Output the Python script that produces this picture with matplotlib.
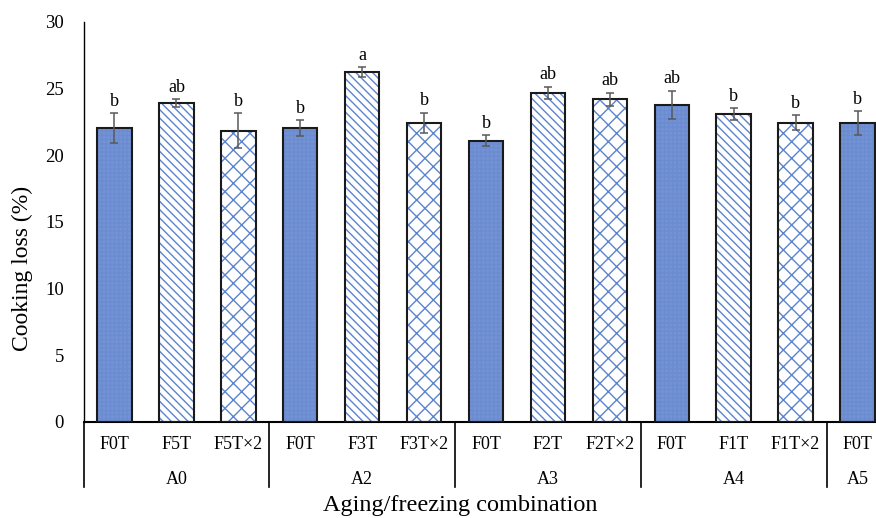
import numpy as np
import matplotlib
matplotlib.use("Agg")
import matplotlib.pyplot as plt
from matplotlib.transforms import blended_transform_factory

plt.rcParams['font.family'] = ['Liberation Serif', 'DejaVu Serif']
plt.rcParams['hatch.linewidth'] = 1.0

# data
groups = ['A0', 'A2', 'A3', 'A4', 'A5']
group_sizes = [3, 3, 3, 3, 1]
cats = ['F0T', 'F5T', 'F5T×2', 'F0T', 'F3T', 'F3T×2',
        'F0T', 'F2T', 'F2T×2', 'F0T', 'F1T', 'F1T×2', 'F0T']
vals = [22.05, 23.9, 21.85, 22.05, 26.25, 22.45,
        21.1, 24.7, 24.2, 23.8, 23.1, 22.45, 22.4]
errs = [1.1, 0.3, 1.3, 0.6, 0.35, 0.75,
        0.4, 0.45, 0.5, 1.05, 0.45, 0.55, 0.9]
letters = ['b', 'ab', 'b', 'b', 'a', 'b',
           'b', 'ab', 'ab', 'ab', 'b', 'b', 'b']
kinds = [0, 1, 2, 0, 1, 2, 0, 1, 2, 0, 1, 2, 0]

fig = plt.figure(figsize=(8.76, 5.18), dpi=100)
ax = fig.add_axes([83.5/876, 1-422/518, (888.5-83.5)/876, 400/518])

x = np.arange(len(cats))
w = 0.556
for i in range(len(cats)):
    k = kinds[i]
    if k == 0:
        ax.bar(x[i], vals[i], w, color='#7393d4', edgecolor='#6b8cd0',
               hatch='++++', lw=0, zorder=2)
    elif k == 1:
        ax.bar(x[i], vals[i], w, color='white', edgecolor='#5b84cf',
               hatch='\\\\\\\\', lw=0, zorder=2)
    else:
        ax.bar(x[i], vals[i], w, color='white', edgecolor='#5b84cf',
               hatch='xx', lw=0, zorder=2)
    ax.bar(x[i], vals[i], w, fill=False, edgecolor='#1a1a1a', lw=1.5, zorder=3)

ax.errorbar(x, vals, yerr=errs, fmt='none', ecolor='#595959', elinewidth=1.1,
            capsize=3.2, capthick=1.1, zorder=4)
for i in range(len(cats)):
    ax.text(x[i], vals[i] + errs[i] + 0.25, letters[i], ha='center', va='bottom',
            fontsize=13)

ax.set_xlim(-0.5, len(cats) - 0.5)
ax.set_ylim(0, 30)
ax.set_yticks(np.arange(0, 31, 5))
ax.tick_params(axis='y', length=0, pad=14, labelsize=13.5)
ax.set_xticks(x)
ax.set_xticklabels(cats, fontsize=13)
ax.tick_params(axis='x', length=0, pad=10)
for s in ['top', 'right']:
    ax.spines[s].set_visible(False)
ax.spines['left'].set_linewidth(1.0)
ax.spines['bottom'].set_linewidth(1.5)

# group labels and dividers
tr = blended_transform_factory(ax.transData, ax.transAxes)
start = 0
ax.plot([-0.5, -0.5], [0, -65/400], transform=tr, color='black', lw=1.2,
        clip_on=False)
for g, n in zip(groups, group_sizes):
    center = start + (n - 1) / 2
    ax.text(center, -58/400, g, transform=tr, ha='center', va='center',
            fontsize=13)
    end = start + n - 0.5
    if end < len(cats) - 0.5:
        ax.plot([end, end], [0, -65/400], transform=tr, color='black', lw=1.2,
                clip_on=False)
    start += n

fig.text(460/876, 1-506/518, 'Aging/freezing combination', ha='center',
         va='center', fontsize=17.5)
fig.text(22/876, 1-268/518, 'Cooking loss (%)', ha='center', va='center',
         rotation=90, fontsize=17)

fig.savefig('out.png', dpi=100)
